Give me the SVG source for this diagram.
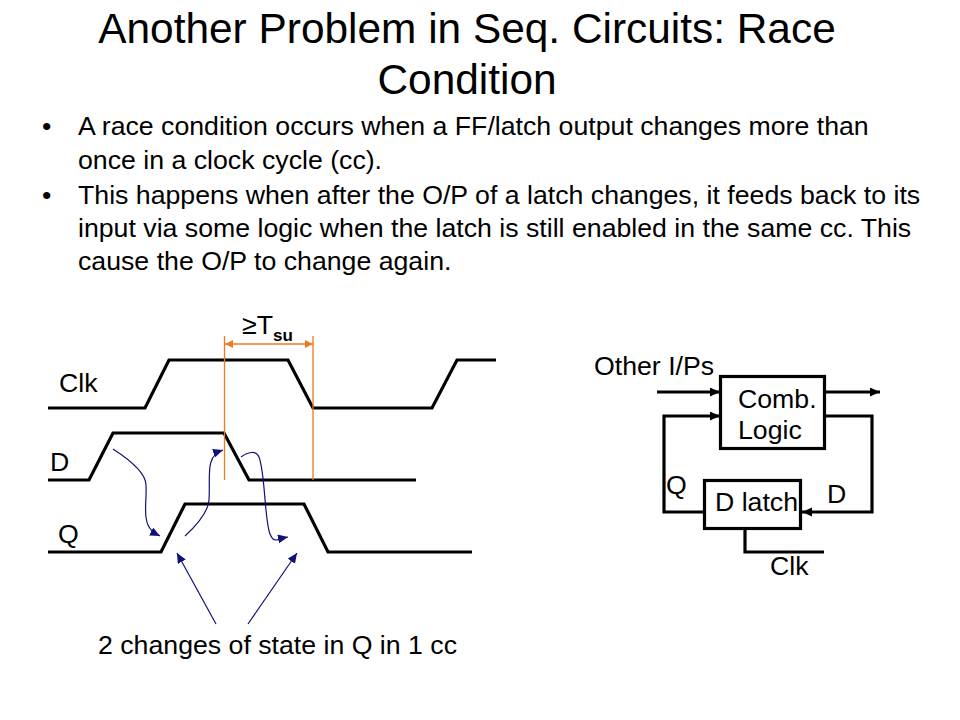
<svg xmlns="http://www.w3.org/2000/svg" width="960" height="720" viewBox="0 0 960 720">
<style>
text{font-family:"Liberation Sans",Arial,sans-serif;fill:#000}
.title{font-size:42.400px;text-anchor:middle}
.body{font-size:26.700px}
.lab{font-size:26.700px}
.w{fill:none;stroke:#000;stroke-width:3.2}
.box{fill:none;stroke:#000;stroke-width:3.2}
.o{fill:none;stroke:#f07820;stroke-width:1.3}
.n{fill:none;stroke:#10107a;stroke-width:1.2}
</style>
<defs>
<marker id="ab" markerUnits="userSpaceOnUse" markerWidth="12" markerHeight="10" refX="10" refY="4.500" orient="auto"><path d="M0 0L10 4.500L0 9Z" fill="#10107a"/></marker>
<marker id="ak" markerUnits="userSpaceOnUse" markerWidth="12" markerHeight="10" refX="10" refY="4.500" orient="auto"><path d="M0 0L10 4.500L0 9Z" fill="#000"/></marker>
<marker id="ao" markerUnits="userSpaceOnUse" markerWidth="10" markerHeight="10" refX="8" refY="4" orient="auto-start-reverse"><path d="M0 0L8 4L0 8Z" fill="#f07820"/></marker>
</defs>
<rect width="960" height="720" fill="#fff"/>
<text class="title" x="467" y="43">Another Problem in Seq. Circuits: Race</text>
<text class="title" x="467" y="94">Condition</text>
<text class="body" x="42" y="135">•</text><text class="body" x="78" y="135">A race condition occurs when a FF/latch output changes more than</text>
<text class="body" x="78" y="169">once in a clock cycle (cc).</text>
<text class="body" x="42" y="204">•</text><text class="body" x="78" y="204">This happens when after the O/P of a latch changes, it feeds back to its</text>
<text class="body" x="78" y="237">input via some logic when the latch is still enabled in the same cc. This</text>
<text class="body" x="78" y="270">cause the O/P to change again.</text>
<g id="waves">
<path class="w" d="M48 408H145L169 360H288L313 408H432L457 360H496"/>
<path class="w" d="M48 480H89L113 433H224L249 480H416"/>
<path class="w" d="M48 552H161L185 504H304L328 552H472"/>
</g>
<g id="connectors">
<path class="o" d="M224.500 336V480M313 336V480"/>
<path class="o" d="M225 344H313" marker-start="url(#ao)" marker-end="url(#ao)"/>
<path class="n" d="M113 449C130 460 146 473 146 485C147 500 143 515 148 525C151 532 156 534 160 536" marker-end="url(#ab)"/>
<path class="n" d="M185 536C197 525 208 513 209 500C210 485 208 470 211 462C213 455 217 452 223 450" marker-end="url(#ab)"/>
<path class="n" d="M241 457C248 452 256 450 259 457C263 467 264 490 266 510C268 530 270 540 276 540C280 540 283 538 288 537" marker-end="url(#ab)"/>
<path class="n" d="M216 624L177 553" marker-end="url(#ab)"/>
<path class="n" d="M248 624L297 553" marker-end="url(#ab)"/>
<path class="w" d="M657 392H720" marker-end="url(#ak)"/>
<path class="w" d="M825 392H880" marker-end="url(#ak)"/>
<path class="w" d="M704 512H664V416H720" marker-end="url(#ak)"/>
<path class="w" d="M825 416H872V512H802" marker-end="url(#ak)"/>
<path class="w" d="M745 528V552H824"/>
</g>
<g id="comb-logic"><rect class="box" x="720.500" y="376.500" width="104" height="72"/></g>
<g id="d-latch"><rect class="box" x="704.500" y="480.500" width="96" height="48"/></g>
<text class="lab" x="59" y="392">Clk</text>
<text class="lab" x="50" y="471">D</text>
<text class="lab" x="58" y="543">Q</text>
<text class="lab" x="242" y="334">≥T</text>
<text x="273" y="341" font-size="17" font-weight="bold">su</text>
<text class="lab" x="98" y="654">2 changes of state in Q in 1 cc</text>
<text class="lab" x="594" y="375">Other I/Ps</text>
<text class="lab" x="738" y="408">Comb.</text>
<text class="lab" x="738" y="439">Logic</text>
<text class="lab" x="715" y="511">D latch</text>
<text class="lab" x="666" y="494">Q</text>
<text class="lab" x="827" y="503">D</text>
<text class="lab" x="770" y="575">Clk</text>
</svg>
